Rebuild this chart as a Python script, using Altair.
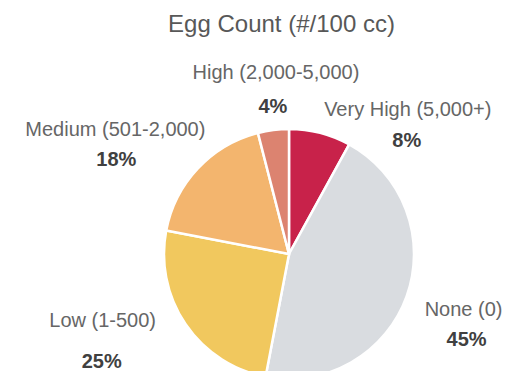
import altair as alt
import pandas as pd

categories = ["Very High (5,000+)", "None (0)", "Low (1-500)", "Medium (501-2,000)", "High (2,000-5,000)"]
percents = [8, 45, 25, 18, 4]
colors = ["#C8224A", "#D9DCE0", "#F1C85E", "#F3B56E", "#DC8370"]

df = pd.DataFrame({
    "category": categories,
    "value": percents,
    "order": list(range(len(categories))),
    "pct": [f"{p}%" for p in percents],
})

CX, CY = 281, 206   # pie centre inside the view
R = 125
LR = 160            # label anchor radius

color = alt.Color("category:N", scale=alt.Scale(domain=categories, range=colors), legend=None)
theta = alt.Theta("value:Q", stack=True)
order = alt.Order("order:Q")

pie = alt.Chart(df).mark_arc(outerRadius=R, stroke="white", strokeWidth=2.5).encode(
    theta=theta, color=color, order=order,
    x=alt.value(CX), y=alt.value(CY),
)

# per-label nudges (name line, percent line) from the mid-angle anchor
nudge = {
    "Very High (5,000+)": ((79, 17), (78, 48)),
    "None (0)": ((24, 8), (27, 38)),
    "Low (1-500)": ((-54, -17), (-55, 24)),
    "Medium (501-2,000)": ((-57, -8), (-56, 22)),
    "High (2,000-5,000)": ((7, -16), (4, 18)),
}

layers = [pie]
for cat in categories:
    (ndx, ndy), (pdx, pdy) = nudge[cat]
    base = alt.Chart(df).transform_stack(
        stack="value", groupby=[], as_=["v0", "v1"], sort=[alt.SortField("order")]
    ).transform_calculate(
        mid="(datum.v0 + datum.v1) / 2"
    ).transform_filter(alt.datum.category == cat)
    enc = dict(theta=alt.Theta("mid:Q", scale=alt.Scale(domain=[0, 100]), stack=None),
               x=alt.value(CX), y=alt.value(CY))
    layers.append(base.mark_text(radius=LR, dx=ndx, dy=ndy, align="center", baseline="alphabetic",
                                 font="Liberation Sans", fontSize=20, color="#666666").encode(
        text="category:N", **enc))
    layers.append(base.mark_text(radius=LR, dx=pdx, dy=pdy, align="center", baseline="alphabetic",
                                 font="Liberation Sans", fontSize=20, fontWeight="bold",
                                 color="#404040").encode(text="pct:N", **enc))

chart = alt.layer(*layers).resolve_scale(theta="independent").properties(
    width=489, height=323,
    padding={"left": 0, "top": 40, "right": 8, "bottom": 0},
    autosize=alt.AutoSizeParams(type="none"),
    title=alt.TitleParams("Egg Count (#/100 cc)", anchor="middle", orient="top", offset=7,
                          dx=29, dy=15, baseline="alphabetic", font="Liberation Sans", fontSize=24,
                          fontWeight="normal", color="#585858"),
).configure_view(stroke=None)

chart.save("out.html", embed_options={"renderer": "svg", "actions": False})
